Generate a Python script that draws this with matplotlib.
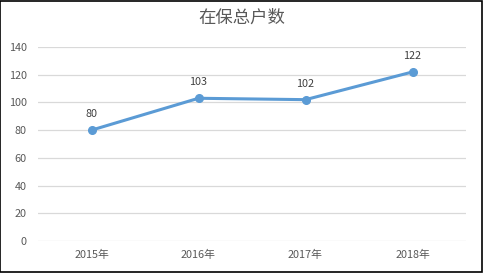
import matplotlib
matplotlib.use("Agg")
import matplotlib.pyplot as plt

years = ["2015年", "2016年", "2017年", "2018年"]
households = [80, 103, 102, 122]
y_ticks = [0, 20, 40, 60, 80, 100, 120, 140]

plt.rcParams['font.family'] = ['Noto Sans CJK SC', 'DejaVu Sans']

fig = plt.figure(figsize=(4.83, 2.73), dpi=100)
fig.patch.set_facecolor("white")
ax = fig.add_axes([38 / 483, 32 / 273, 428 / 483, 194 / 273])

x = list(range(len(years)))
ax.plot(x, households, color="#5B9BD5", linewidth=2.2, marker="o",
        markersize=5.5, zorder=3)
for xi, v in zip(x, households):
    ax.annotate(str(v), (xi, v), xytext=(0, 8), textcoords="offset points",
                ha="center", va="bottom", fontsize=7.8, color="#404040")

ax.set_xlim(-0.5, len(years) - 0.5)
ax.set_ylim(0, 140)
ax.set_yticks(y_ticks)
ax.set_xticks(x)
ax.set_xticklabels(years)
ax.grid(axis="y", color="#D9D9D9", linewidth=0.9)
ax.set_axisbelow(True)
for s in ax.spines.values():
    s.set_visible(False)
ax.tick_params(axis="both", length=0, labelsize=7.8, labelcolor="#595959")
ax.tick_params(axis="y", pad=8)
ax.tick_params(axis="x", pad=6)

fig.text(0.5, 1 - 18 / 273, "在保总户数", ha="center", va="center",
         fontsize=12.5, color="#595959")

# thin frame around the whole figure
border = plt.Rectangle((0.001, 0.002), 0.997, 0.996, transform=fig.transFigure,
                       fill=False, edgecolor="black", linewidth=1.2)
fig.patches.append(border)

fig.savefig("out.png", dpi=100)
